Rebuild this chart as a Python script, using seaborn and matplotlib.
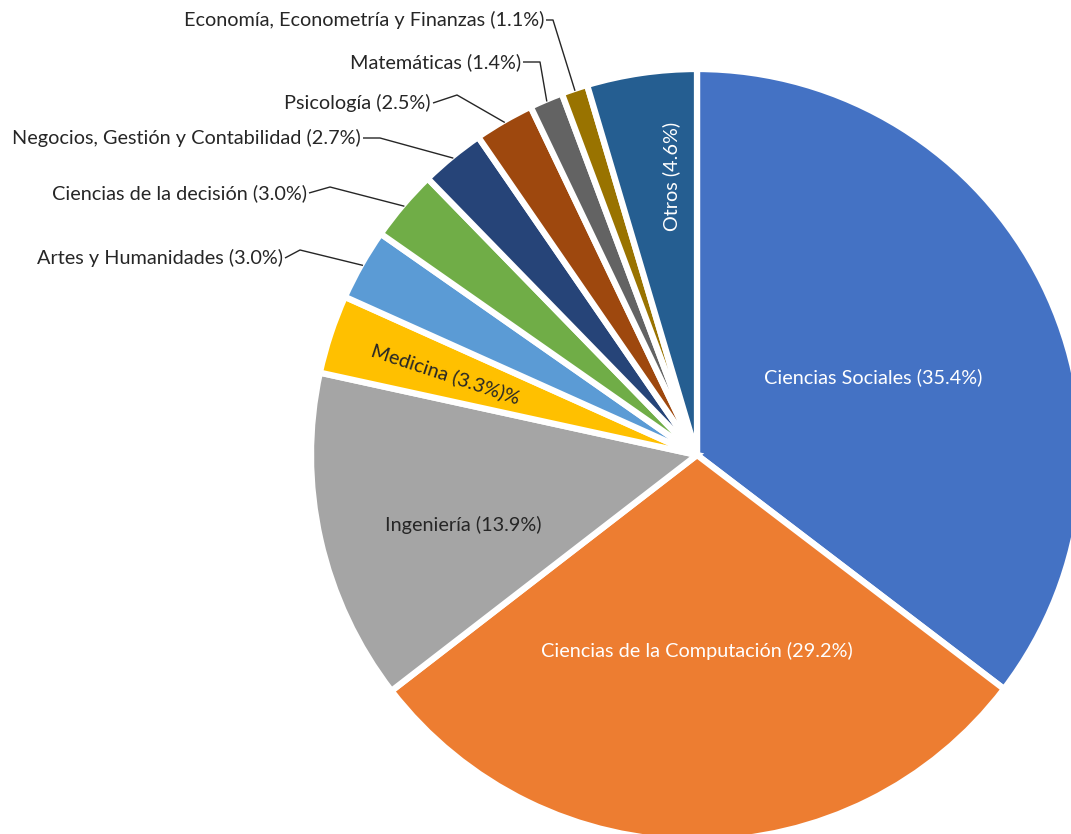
import numpy as np
import matplotlib
matplotlib.use("Agg")
import matplotlib.pyplot as plt
import seaborn as sns

categories = ["Ciencias Sociales", "Ciencias de la Computación", "Ingeniería", "Medicina",
              "Artes y Humanidades", "Ciencias de la decisión", "Negocios, Gestión y Contabilidad",
              "Psicología", "Matemáticas", "Economía, Econometría y Finanzas", "Otros"]
values = [35.4, 29.2, 13.9, 3.3, 3.0, 3.0, 2.7, 2.5, 1.4, 1.1, 4.6]
colors = ["#4472C4", "#ED7D31", "#A5A5A5", "#FFC000", "#5B9BD5", "#70AD47",
          "#264478", "#9E480E", "#636363", "#997300", "#255E91"]

sns.set_theme(style="white")
plt.rcParams['font.family'] = ['Lato', 'DejaVu Sans']

W, H = 1071, 834
fig = plt.figure(figsize=(W / 100, H / 100), dpi=100)
ax = fig.add_axes([0, 0, 1, 1])

def P(px, py):
    return (px, H - py)

cx, cy = P(697, 455)
R = 386
wedges, _ = ax.pie(values, colors=sns.color_palette(colors), startangle=90, counterclock=False,
                   radius=R, center=(cx, cy),
                   wedgeprops=dict(edgecolor="white", linewidth=4.5), frame=True)
ax.set_xlim(0, W)
ax.set_ylim(0, H)
ax.set_aspect("equal")
ax.axis("off")

def mid(i):
    w = wedges[i]
    return np.deg2rad((w.theta1 + w.theta2) / 2)

def pt(i, f):
    a = mid(i)
    return cx + f * R * np.cos(a), cy + f * R * np.sin(a)

fs = 14.3
dark = "#262626"
labels = [f"{c} ({v:.1f}%)" for c, v in zip(categories, values)]

# inner labels (pixel positions of label centres)
inner = [
    (0, (873, 377), "white", 0, ""),
    (1, (697, 651), "white", 0, ""),
    (2, (463, 525), dark, 0, ""),
    (3, (446, 374), dark, np.rad2deg(mid(3)) - 180, "%"),
    (10, (671, 176), "white", 90, ""),
]
for i, pos, col, rot, suffix in inner:
    x, y = P(*pos)
    ax.text(x, y, labels[i] + suffix, color=col, ha="center", va="center", fontsize=fs,
            rotation=rot, rotation_mode="anchor")

# outer labels with leader lines: (index, text end pixel, elbow pixel)
outer = [
    (4, (285, 258), (300, 250)),
    (5, (309, 193), (330, 187)),
    (6, (363, 138), (380, 138)),
    (7, (433, 103), (457, 95)),
    (8, (523, 62), (540, 62)),
    (9, (546, 20), (553, 20)),
]
for i, tend, elb in outer:
    tx, ty = P(*tend)
    ex, ey = P(*elb)
    ax.text(tx - 2, ty, labels[i], ha="right", va="center", fontsize=fs, color=dark)
    wx, wy = pt(i, 0.995)
    ax.plot([tx, ex, wx], [ty, ey, wy], color=dark, lw=1.0, solid_capstyle="butt")

fig.savefig("out.png", dpi=100)
